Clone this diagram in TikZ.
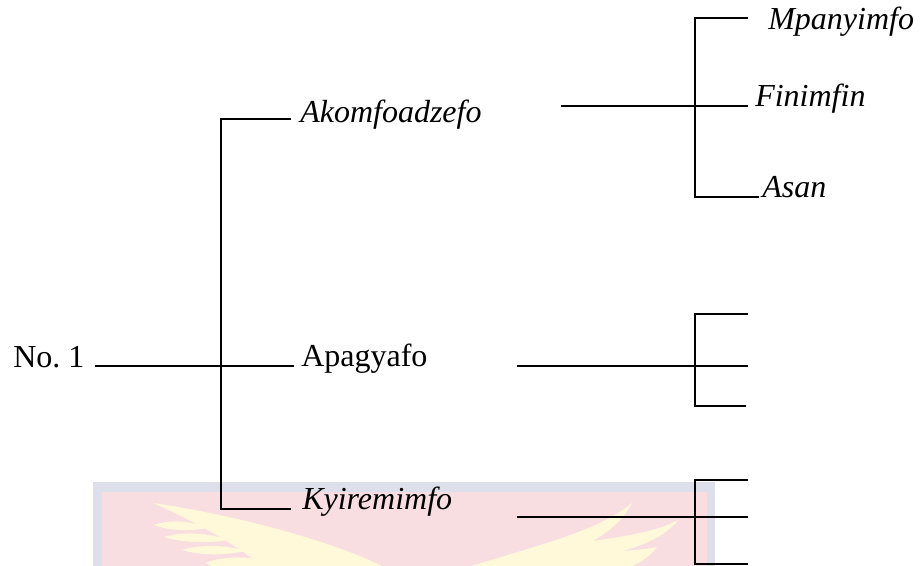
\documentclass[tikz,border=0pt]{standalone}
\usepackage{fontspec}
\setmainfont{Liberation Serif}
\usetikzlibrary{positioning}
\definecolor{CrestGrey}{RGB}{221,224,235}
\definecolor{CrestPink}{RGB}{248,222,224}
\definecolor{CrestGold}{RGB}{255,249,218}

\begin{document}
\begin{tikzpicture}[
    x=0.75pt, y=-0.75pt,
    stem/.style={line width=1.4pt, black, line cap=rect},
    word/.style={anchor=base west, inner sep=0pt, font=\fontsize{24}{28}\selectfont},
    kin/.style={word, font=\fontsize{24}{28}\selectfont\itshape},
    feather/.style={fill=CrestGold}
  ]
  \useasboundingbox (0,0) rectangle (923,566);

  % faint crest behind the lower rows
  \fill[CrestGrey] (93,482) rectangle (715,566);
  \fill[CrestPink] (102,492) rectangle (707,566);
  % left wing
  \path[feather] (153,503) .. controls (230,514) and (330,540) .. (382,566)
    -- (262,566) .. controls (240,548) and (205,526) .. cycle;
  \path[feather] (154,525) .. controls (170,519) and (192,521) .. (208,528)
    .. controls (188,532) and (166,530) .. cycle;
  \path[feather] (164,537) .. controls (182,531) and (210,533) .. (228,540)
    .. controls (206,544) and (180,542) .. cycle;
  \path[feather] (182,550) .. controls (200,544) and (228,545) .. (245,551)
    .. controls (224,556) and (198,555) .. cycle;
  \path[feather] (205,563) .. controls (222,556) and (248,556) .. (265,561)
    -- (262,566) -- (212,566) -- cycle;
  % right wing
  \path[feather] (471,566) .. controls (540,545) and (600,530) .. (632,503)
    .. controls (622,522) and (606,534) .. (592,541)
    .. controls (630,536) and (660,530) .. (678,520)
    .. controls (666,536) and (642,546) .. (622,551)
    .. controls (636,550) and (648,549) .. (657,547)
    .. controls (650,556) and (642,562) .. (632,566) -- cycle;

  % first generation
  \node[word] (root) at (13,367) {No.~1};
  \coordinate (rootOut) at (96,366);
  \coordinate (hub) at (221,366);
  \coordinate (akomTip) at (290,119);
  \coordinate (apagTip) at (293,366);
  \coordinate (kyirTip) at (290,509);

  \node[kin]  (akom) at (300,123) {Akomfoadzefo};
  \node[word] (apag) at (301,366) {Apagyafo};
  \node[kin]  (kyir) at (302,509) {Kyiremimfo};

  \draw[stem] (rootOut) -- (apagTip);
  \draw[stem] (akomTip) -- (akomTip -| hub) -- (kyirTip -| hub) -- (kyirTip);

  % branches of Akomfoadzefo
  \coordinate (akomOut) at (562,106);
  \coordinate (akomHub) at (695,106);
  \coordinate (mpanTip) at (747,18);
  \coordinate (finiTip) at (747,106);
  \coordinate (asanTip) at (758,197);

  \node[kin] (mpan) at (768,30) {Mpanyimfo};
  \node[kin] (fini) at (755,107) {Finimfin};
  \node[kin] (asan) at (762,198) {Asan};

  \draw[stem] (akomOut) -- (finiTip);
  \draw[stem] (mpanTip) -- (mpanTip -| akomHub) -- (asanTip -| akomHub) -- (asanTip);

  % branches of Apagyafo
  \coordinate (apagOut) at (518,366);
  \coordinate (apagHub) at (695,366);
  \coordinate (apagTop) at (747,314);
  \coordinate (apagMid) at (747,366);
  \coordinate (apagLow) at (745,406);

  \draw[stem] (apagOut) -- (apagMid);
  \draw[stem] (apagTop) -- (apagTop -| apagHub) -- (apagLow -| apagHub) -- (apagLow);

  % branches of Kyiremimfo
  \coordinate (kyirOut) at (518,517);
  \coordinate (kyirHub) at (695,517);
  \coordinate (kyirTop) at (747,480);
  \coordinate (kyirMid) at (747,517);
  \coordinate (kyirLow) at (747,564);

  \draw[stem] (kyirOut) -- (kyirMid);
  \draw[stem] (kyirTop) -- (kyirTop -| kyirHub) -- (kyirLow -| kyirHub) -- (kyirLow);
\end{tikzpicture}
\end{document}
